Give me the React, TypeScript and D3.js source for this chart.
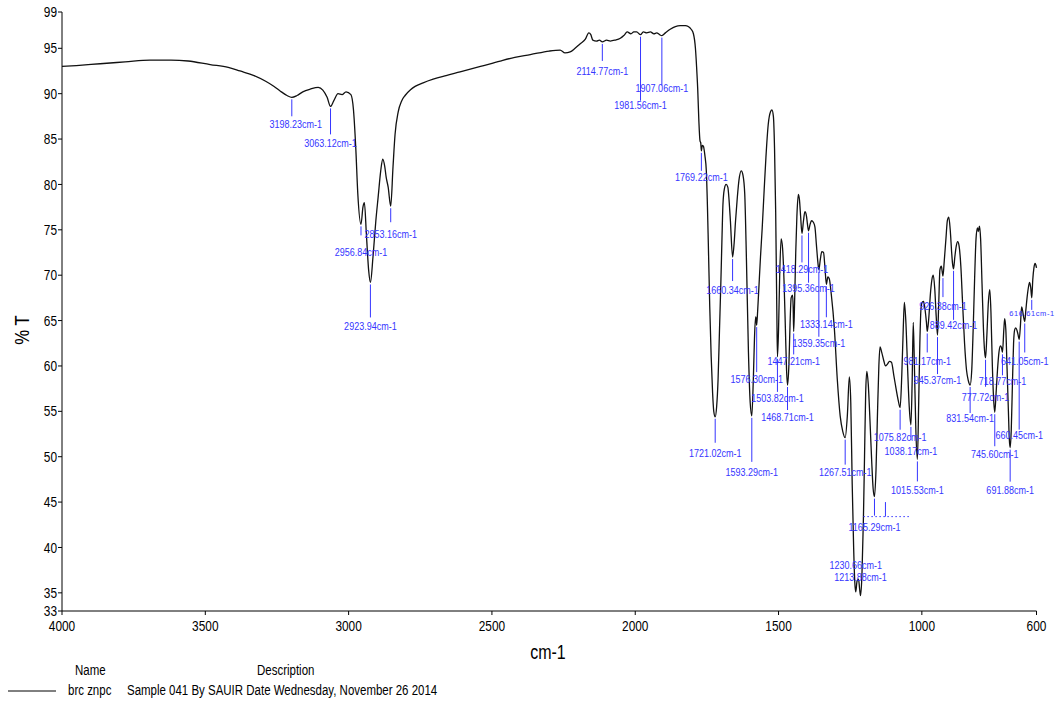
import React from "react";
import * as d3 from "d3";

// Axis ticks
const xTicks = [4000, 3500, 3000, 2500, 2000, 1500, 1000, 600];
const yTicks = [33, 35, 40, 45, 50, 55, 60, 65, 70, 75, 80, 85, 90, 95, 99];

// Spectrum trace between the labelled bands (wavenumber, %T)
const traceWn = [
  4000, 3950, 3867, 3780, 3693, 3620, 3560, 3483, 3420, 3379, 3330, 3291, 3260, 3239, 3215,
  3180, 3160, 3134, 3106, 3090, 3075, 3052, 3037, 3023, 3009, 2992, 2983, 2975, 2968,
  2950, 2945, 2938, 2930, 2915, 2905, 2897, 2888, 2881, 2874, 2869, 2862,
  2845, 2838, 2827, 2815, 2803, 2785, 2768, 2740, 2705, 2660, 2611, 2540, 2471, 2420, 2366,
  2300, 2262, 2245, 2227, 2210, 2192, 2174, 2162, 2155, 2148, 2135, 2125,
  2100, 2087, 2070, 2052, 2040, 2028, 2015, 2005, 1995,
  1972, 1960, 1947, 1935, 1925, 1915,
  1895, 1878, 1860, 1843, 1825, 1815, 1805, 1797, 1790, 1786, 1782, 1778, 1774, 1771.5,
  1766, 1762, 1757, 1752, 1748, 1745, 1740, 1735, 1730, 1726,
  1716, 1711, 1706, 1701, 1697, 1694, 1689, 1683, 1677, 1672, 1668,
  1655, 1650, 1644, 1638, 1630, 1624, 1618, 1612, 1605, 1599,
  1588, 1584, 1580, 1578,
  1573, 1569, 1563, 1557, 1550, 1544, 1536, 1528, 1523, 1518, 1514, 1510, 1506,
  1500, 1496, 1491, 1486, 1481, 1476, 1472,
  1464, 1460, 1456, 1451, 1449,
  1444, 1440, 1436, 1431, 1427, 1423,
  1413, 1408, 1403, 1399,
  1390, 1385, 1378, 1373, 1368, 1363,
  1354, 1349, 1343, 1338,
  1328, 1323, 1316, 1305, 1295, 1285, 1276,
  1260, 1253, 1248, 1243, 1238, 1234,
  1226, 1221, 1217,
  1209, 1204, 1200, 1196, 1192, 1187, 1181, 1175, 1170,
  1160, 1155, 1150, 1146, 1140, 1133, 1127, 1120, 1113, 1106, 1098, 1090, 1083,
  1070, 1065, 1061, 1056, 1050, 1044,
  1034, 1030, 1026, 1021,
  1011, 1007, 1003, 999, 994, 988, 984,
  976, 970, 965, 960, 955, 950,
  941, 937, 932, 929,
  922, 916, 911, 906, 901, 896, 893,
  885, 880, 875, 870, 864, 858, 851, 844, 838,
  826, 821, 816, 811, 806, 803, 799, 795, 790, 785, 781,
  773, 768, 763, 759, 754, 749,
  741, 736, 731, 726, 722,
  714, 711, 707, 703, 698, 695,
  688, 684, 680, 676, 672, 667, 664,
  656, 652, 648, 645,
  637, 633, 628, 624, 620,
  613, 609, 605, 602, 600,
];
const traceT = [
  93.0, 93.1, 93.3, 93.5, 93.7, 93.7, 93.6, 93.2, 92.9, 92.5, 92.0, 91.4, 90.8, 90.3, 89.8,
  89.8, 90.2, 90.5, 90.7, 90.4, 89.6, 89.2, 90.0, 89.9, 90.2, 89.9, 88.2, 84.0, 79.0,
  77.5, 78.0, 74.5, 70.5, 72.0, 76.0, 78.6, 81.5, 82.8, 82.0, 80.8, 79.7,
  82.0, 85.5, 88.0, 89.2, 89.8, 90.4, 90.8, 91.2, 91.6, 92.0, 92.4, 93.0, 93.6, 94.0, 94.3,
  94.7, 94.8, 94.5, 94.6, 95.0, 95.5, 96.0, 96.7, 96.5, 95.9, 95.8, 95.9,
  95.9, 95.8, 95.9, 96.1, 96.4, 96.8, 96.6, 96.8, 96.8,
  96.8, 96.7, 96.8, 96.6, 96.7, 96.5,
  96.7, 97.1, 97.4, 97.5, 97.5, 97.4, 97.1, 96.6, 95.0, 93.0, 90.5, 87.0, 84.8, 84.6,
  84.3, 84.2, 83.2, 81.5, 77.5, 73.5, 66.5, 61.0, 57.0, 55.0,
  55.5, 58.5, 64.0, 69.5, 74.5, 77.8, 79.5, 80.0, 79.7, 78.0, 76.0,
  73.5, 76.0, 78.5, 80.5, 81.5, 81.0, 79.0, 71.7, 61.5, 56.0,
  58.5, 63.0, 65.4, 65.2,
  66.0, 68.4, 72.0, 75.2, 79.5, 83.0, 86.6, 88.0, 88.2, 87.5, 84.0, 77.0, 66.0,
  64.0, 70.0, 74.0, 73.0, 69.5, 64.0, 59.5,
  60.0, 64.5, 67.5, 67.8, 66.5,
  67.0, 72.5, 76.5, 78.9, 78.3, 76.5,
  76.0, 77.0, 76.6, 75.6,
  75.6, 76.0, 75.8, 75.3, 73.4, 71.5,
  71.8, 72.6, 72.5, 70.8,
  69.8, 69.6, 67.9, 64.0, 58.5, 54.5, 52.8,
  54.5, 58.8, 56.0, 47.0, 40.0, 36.2,
  36.3, 36.5, 35.4,
  37.0, 43.0, 50.0, 57.0, 59.4, 58.0, 54.0, 49.5, 46.5,
  48.5, 54.5, 60.0, 62.1, 61.5, 60.6, 60.0, 60.2, 60.5, 60.4, 59.0, 57.5, 56.3,
  59.0, 64.0, 67.0, 65.0, 60.0, 55.5,
  58.0, 64.8, 60.0, 53.0,
  56.0, 62.5, 66.3, 67.0, 67.1, 66.0, 64.8,
  65.2, 68.0, 69.5, 70.0, 68.5, 65.5,
  67.0, 70.6, 71.0, 70.4,
  71.5, 74.0, 76.0, 76.4, 75.0, 72.5, 71.3,
  72.0, 73.2, 73.7, 73.2, 71.0, 67.0, 62.5, 59.5, 58.4,
  59.5, 64.0, 69.5, 74.0, 75.2, 74.8, 75.4, 74.0, 69.0, 64.0, 61.6,
  63.5, 67.0, 68.4, 66.0, 60.0, 56.0,
  57.0, 59.6, 61.5, 62.2, 62.0,
  64.0, 65.2, 64.0, 60.0, 55.0, 52.0,
  53.0, 58.0, 62.5, 64.0, 64.2, 63.8, 63.4,
  64.5, 66.5, 66.0, 65.4,
  66.2, 67.5, 68.7, 69.2, 68.6,
  69.5, 70.8, 71.3, 71.1, 70.8,
];

// Labelled bands (wavenumber, %T at the band)
const peakWn = [
  3198.23, 3063.12, 2956.84, 2923.94, 2853.16, 2114.77, 1981.56, 1907.06, 1769.22,
  1721.02, 1660.34, 1593.29, 1576.3, 1503.82, 1468.71, 1447.21, 1418.29, 1395.36,
  1359.35, 1333.14, 1267.51, 1230.66, 1213.88, 1165.29, 1075.82, 1038.17, 1015.53,
  981.17, 945.37, 926.38, 889.42, 831.54, 777.72, 745.6, 718.77, 691.88, 660.45,
  641.05, 616.61,
];
const peakT = [
  89.6, 88.6, 75.6, 69.2, 77.6, 95.7, 96.5, 96.4, 83.7,
  54.4, 72.0, 54.5, 64.5, 61.0, 57.9, 63.8, 74.6, 74.9,
  70.6, 69.0, 52.1, 35.1, 34.7, 45.6, 55.4, 53.5, 49.7,
  63.8, 63.4, 69.9, 70.7, 57.9, 60.9, 54.9, 61.5, 51.0, 62.9,
  64.9, 67.5,
];

// Unlabelled band tick in the crowded 1200-1040 region
const crowdSpan = [1204, 1040];
const crowdTickWn = 1127;
const crowdLevelT = [43.4, 45.0];

// Legend
const legendHeaders = ["Name", "Description"];
const legendName = "brc znpc";
const legendDesc = "Sample 041 By SAUIR Date Wednesday, November 26 2014";

// Label placement: leader end and text centre below the band (px), optional shift
type LabelLayout = { end: number; dy: number; dx?: number; small?: boolean };
const labelLayout: LabelLayout[] = [
  { end: 19, dy: 27, dx: 4 }, { end: 28, dy: 37 }, { end: 11, dy: 28 }, { end: 35, dy: 44 },
  { end: 16, dy: 28 }, { end: 19, dy: 29 }, { end: 66, dy: 70 }, { end: 50, dy: 53 },
  { end: 20, dy: 26 }, { end: 26, dy: 36 }, { end: 24, dy: 33 }, { end: 46, dy: 56 },
  { end: 47, dy: 54 }, { end: 35, dy: 41 }, { end: 25, dy: 32 }, { end: 23, dy: 30 },
  { end: 29, dy: 36 }, { end: 52, dy: 57 }, { end: 67, dy: 73 }, { end: 33, dy: 40 },
  { end: 27, dy: 34 }, { end: 0, dy: -27 }, { end: 0, dy: -18 }, { end: 19, dy: 30 },
  { end: 22, dy: 29 }, { end: 15, dy: 26 }, { end: 22, dy: 31 }, { end: 21, dy: 30 },
  { end: 39, dy: 45 }, { end: 21, dy: 30 }, { end: 51, dy: 56 }, { end: 28, dy: 33 },
  { end: 29, dy: 39 }, { end: 34, dy: 42 }, { end: 23, dy: 29 }, { end: 34, dy: 43 },
  { end: 90, dy: 96 }, { end: 31, dy: 40 }, { end: 12, dy: 15.5, small: true },
];

const FONT = "'Liberation Sans', Arial, sans-serif";
const BLUE = "#3535ff";
// horizontal squeeze giving the condensed face of the instrument printout
const SQUEEZE = 0.82;

type Pt = { w: number; t: number };

type NTextProps = {
  x: number;
  y: number;
  size: number;
  anchor?: "start" | "middle" | "end";
  fill?: string;
  dy?: string;
  rotate?: number;
  children: React.ReactNode;
};

function NText({ x, y, size, anchor = "start", fill = "#000", dy, rotate, children }: NTextProps) {
  const rot = rotate ? ` rotate(${rotate})` : "";
  return (
    <text
      transform={`translate(${x},${y})${rot} scale(${SQUEEZE},1)`}
      textAnchor={anchor}
      fontSize={size}
      fill={fill}
      dy={dy}
    >
      {children}
    </text>
  );
}

export default function App() {
  const W = 1056;
  const H = 711;
  const x = d3.scaleLinear().domain([4000, 600]).range([62, 1036.5]);
  const y = d3.scaleLinear().domain([33, 99]).range([611, 12]);

  const pts: Pt[] = traceWn
    .map((w, i) => ({ w, t: traceT[i] }))
    .concat(peakWn.map((w, i) => ({ w, t: peakT[i] })))
    .sort((a, b) => b.w - a.w);

  const path = d3
    .line<Pt>()
    .x((d) => x(d.w))
    .y((d) => y(d.t))
    .curve(d3.curveMonotoneX)(pts) as string;

  const x0 = x.range()[0];
  const x1 = x.range()[1];
  const yBottom = y.range()[0];
  const yTop = y.range()[1];

  return (
    <svg
      width={W}
      height={H}
      style={{ position: "absolute", left: 0, top: 0, display: "block", background: "#fff" }}
      fontFamily={FONT}
    >
      {/* axes */}
      <line x1={x0} x2={x0} y1={yTop} y2={yBottom} stroke="#000" strokeWidth={1} />
      <line x1={x0} x2={x1} y1={yBottom} y2={yBottom} stroke="#000" strokeWidth={1} />
      {yTicks.map((v) => (
        <g key={"y" + v}>
          <line x1={x0 - 4} x2={x0} y1={y(v)} y2={y(v)} stroke="#000" />
          <NText x={x0 - 5} y={y(v)} dy="0.35em" anchor="end" size={14.5}>
            {v}
          </NText>
        </g>
      ))}
      {xTicks.map((v) => (
        <g key={"x" + v}>
          <line x1={x(v)} x2={x(v)} y1={yBottom} y2={yBottom + 4} stroke="#000" />
          <NText x={x(v)} y={yBottom + 20} anchor="middle" size={14.5}>
            {v}
          </NText>
        </g>
      ))}
      <NText x={548} y={659} anchor="middle" size={19.5}>
        cm-1
      </NText>
      <NText x={29} y={330} anchor="middle" size={20.5} rotate={-90}>
        % T
      </NText>

      {/* spectrum */}
      <path d={path} fill="none" stroke="#111" strokeWidth={1.3} strokeLinejoin="round" />

      {/* crowded-region tick */}
      <line
        x1={x(crowdSpan[0])}
        x2={x(crowdSpan[1])}
        y1={y(crowdLevelT[0])}
        y2={y(crowdLevelT[0])}
        stroke={BLUE}
        strokeWidth={1}
        strokeDasharray="1.5,2.5"
      />
      <line
        x1={x(crowdTickWn)}
        x2={x(crowdTickWn)}
        y1={y(crowdLevelT[1])}
        y2={y(crowdLevelT[0])}
        stroke={BLUE}
        strokeWidth={1}
      />

      {/* band labels */}
      {peakWn.map((w, i) => {
        const L = labelLayout[i];
        const px = x(w);
        const py = y(peakT[i]);
        const label = `${w.toFixed(2)}cm-1`;
        return (
          <g key={"p" + i}>
            {L.end > 0 && (
              <line x1={px} x2={px} y1={py + 2} y2={py + L.end} stroke={BLUE} strokeWidth={1} />
            )}
            {L.small ? (
              <text
                x={px}
                y={py + L.dy}
                dy="0.35em"
                textAnchor="middle"
                fontSize={7.5}
                textLength={45}
                lengthAdjust="spacing"
                fill={BLUE}
              >
                {label}
              </text>
            ) : (
              <NText x={px + (L.dx ?? 0)} y={py + L.dy} dy="0.35em" anchor="middle" size={11} fill={BLUE}>
                {label}
              </NText>
            )}
          </g>
        );
      })}

      {/* legend */}
      <NText x={75} y={675} size={14}>
        {legendHeaders[0]}
      </NText>
      <NText x={257} y={675} size={14}>
        {legendHeaders[1]}
      </NText>
      <line x1={8} x2={56} y1={691} y2={691} stroke="#000" strokeWidth={1} />
      <NText x={68} y={695} size={14}>
        {legendName}
      </NText>
      <NText x={127} y={695} size={14}>
        {legendDesc}
      </NText>
    </svg>
  );
}
